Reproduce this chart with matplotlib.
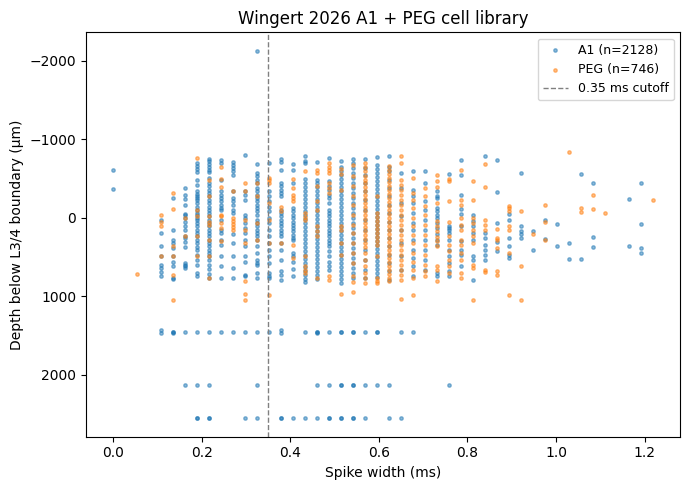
import matplotlib
matplotlib.use("Agg")
import matplotlib.pyplot as plt

# spike width columns (ms) and depths (um)
a1_widths = [0.000, 0.108, 0.135, 0.163, 0.190, 0.217, 0.244, 0.271, 0.298, 0.325,
             0.352, 0.379, 0.406, 0.433, 0.461, 0.488, 0.515, 0.542, 0.569, 0.596,
             0.623, 0.650, 0.677, 0.704, 0.731, 0.759, 0.786, 0.813, 0.840, 0.867,
             0.894, 0.921, 0.948, 0.975, 1.002, 1.029, 1.057, 1.084, 1.165, 1.192]
a1_depths = [
    [-607, -365],
    [25, 195, 361, 493, 599, 641, 696, 739, 1435, 1469],
    [-250, 153, 280, 323, 387, 493, 557, 612, 770, 778, 1450, 1456, 1462],
    [-378, -293, -238, -166, -51, -34, 8, 47, 102, 153, 229, 259, 314, 374, 578, 599, 620, 641, 1456, 2132],
    [-697, -663, -620, -578, -484, -421, -336, -306, -272, -250, -229, -187, -144, -102, -60, -30, 0, 34,
     68, 110, 153, 196, 238, 280, 323, 374, 416, 472, 535, 599, 705, 748, 1456, 2132, 2548, 2556],
    [-752, -718, -684, -642, -612, -578, -506, -442, -400, -357, -314, -272, -229, -187, -144, -102, -60, -17,
     25, 68, 110, 153, 196, 238, 280, 323, 365, 408, 450, 493, 535, 599, 654, 714, 769, 1456, 2132, 2548, 2556],
    [-739, -697, -484, -336, -293, -250, -208, -166, -130, -102, 25, 153, 196, 280, 344, 493, 620, 769, 1456],
    [-710, -676, -633, -591, -548, -336, -250, -208, -166, -102, -60, 200, 323, 493, 642, 769, 1456],
    [-795, -336, -293, -229, -38, 4, 68, 132, 196, 280, 365, 493, 557, 727, 748, 1456, 2552],
    [-2130, -688, -570, -527, -484, -442, -378, -336, -293, -250, -208, -166, -123, -81, -38, 25, 68, 110,
     153, 196, 238, 280, 365, 450, 535, 578, 599, 705, 769, 1456, 2132, 2552],
    [-705, -336, -272, -208, -144, -81, 4, 68, 153, 238, 323, 408, 493, 578, 705, 748, 769, 1456],
    [-748, -710, -608, -442, -400, -357, -314, -272, -102, -60, -17, 25, 68, 110, 153, 196, 238, 323, 408,
     535, 684, 727, 790, 1435, 1469, 2548, 2556],
    [-688, -612, -442, -123, -81, -38, 4, 47, 89, 132, 174, 217, 259, 280, 450, 493, 557, 654, 748, 2552],
    [-790, -718, -697, -497, -442, -391, -340, -289, -238, -187, -136, -85, -34, 17, 68, 119, 170, 221, 272,
     323, 374, 425, 476, 527, 578, 629, 680, 731, 782, 812, 1456, 2552],
    [-710, -484, -442, -391, -340, -289, -238, -187, -136, -85, -34, 17, 68, 119, 170, 221, 272, 323, 374,
     425, 476, 527, 578, 629, 680, 731, 782, 1450, 1456, 1462, 2132, 2552],
    [-761, -463, -408, -349, -293, -250, -187, -102, -60, -17, 25, 68, 110, 153, 196, 238, 280, 323, 365,
     429, 493, 557, 620, 663, 1456, 2132, 2548, 2556],
    [-718, -654, -591, -540, -489, -438, -387, -336, -285, -234, -183, -132, -81, -30, 21, 72, 123, 174, 225,
     276, 327, 378, 429, 480, 531, 582, 633, 684, 735, 786, 833, 1452, 1460, 2128, 2136, 2548, 2556],
    [-748, -697, -633, -570, -506, -442, -378, -314, -250, -187, -123, -60, 4, 68, 132, 196, 259, 323, 387,
     450, 514, 578, 642, 705, 769, 1452, 1460, 2128, 2136, 2548, 2556],
    [-748, -633, -548, -442, -336, -229, -102, 25, 153, 280, 408, 535, 663, 769, 1456, 2132, 2552],
    [-774, -676, -625, -574, -523, -472, -421, -370, -319, -268, -217, -166, -115, -64, -13, 38, 89, 140,
     191, 242, 293, 344, 395, 446, 497, 548, 599, 650, 701, 752, 1452, 1460, 2132],
    [-790, -654, -591, -484, -378, -272, -166, -60, 47, 153, 259, 365, 472, 578, 684, 790, 2132, 2552],
    [-570, -378, -187, -17, 153, 323, 493, 663, 1456, 2548],
    [-591, -357, -272, -187, -60, 68, 153, 280, 408, 514, 620, 748, 1456],
    [-591, -442, -208, -102, 25, 153, 280, 408, 535, 663],
    [-344, -272, -250, -123, -81, -38, 4, 60, 130, 200, 280, 350, 705, 748],
    [-561, 102, 132, 153, 196, 280, 408, 493, 578, 684, 748, 2132],
    [-739, -548, -293, -110, -47, 110, 300, 408, 470, 620],
    [-38, 40, 110, 196, 280, 493, 535, 790],
    [-790, 196, 259, 344, 408, 472, 535],
    [-739, -332, 68, 306, 429],
    [-47, 25, 259, 365, 472, 514],
    [-570, 102, 174, 204, 259],
    [166, 408],
    [34, 268],
    [81, 357],
    [323, 523],
    [-557, 523],
    [-442, 246, 374],
    [-238, 357],
    [-442, 81, 387, 450],
]

peg_widths = [0.054, 0.108, 0.135, 0.163, 0.190, 0.217, 0.244, 0.271, 0.298, 0.325,
              0.352, 0.379, 0.406, 0.433, 0.461, 0.488, 0.515, 0.542, 0.569, 0.596,
              0.623, 0.650, 0.677, 0.704, 0.731, 0.759, 0.786, 0.813, 0.840, 0.867,
              0.894, 0.921, 0.948, 0.975, 1.029, 1.057, 1.084, 1.111, 1.219]
peg_depths = [
    [717],
    [-34, 59, 98, 493],
    [-314, -110, 357, 493, 726, 1045],
    [4, 238],
    [-760, -102, -17, 238, 493],
    [-484, -272, -17, 47, 89, 280, 493, 769],
    [-654, -493, -391, -38, -17, 68, 130, 300],
    [-340, 4, 40, 80, 120, 153],
    [-442, -344, 25, 153, 323, 799, 969, 1045],
    [-450, -272, 68, 280],
    [-506, -476, -442, -187, 25, 323, 990],
    [-144, -81, 323],
    [-493, -378, -293, -250, -208, 344, 514],
    [-591, -60, -8, 25, 493, 620, 663, 705],
    [-612, -570, -400, -208, -102, 110, 174, 238, 769],
    [-697, -654, -612, -570, -442, -378, -314, 748, 790],
    [-620, -560, -357, 110, 150, 323, 480, 969],
    [-676, -527, -400, -272, -166, -38, 89, 196, 323, 450, 578, 748, 812, 940],
    [-697, -654, -591, -527, -484, -442, -391, -340, -289, -238, -187, -136, -85, -34, 17, 68, 119, 170,
     221, 272, 323, 374, 450, 535, 620, 705, 769, 825],
    [-272, -60, -8, 43, 93, 145, 196, 247, 297, 348, 493, 769, 799, 833],
    [-663, -612, -561, -510, -459, -408, -357, -306, -255, -204, -153, -102, -51, 0, 51, 102, 153, 204,
     255, 306, 357, 408, 459, 510, 561, 612, 663, 714, 765, 799],
    [-790, -697, -484, -421, -357, -293, -229, -166, -102, -38, 25, 89, 153, 217, 280, 344, 408, 472, 535,
     599, 663, 727, 790, 1037],
    [-506, -314, -229, -123, 4, 110, 217, 323, 450, 557, 663, 769, 990],
    [-378, -272, -153, -38, 89, 217, 344, 472, 599, 684, 748],
    [-548, -472, -391, -187, 40, 100, 170, 240, 300, 360, 620, 663, 799],
    [-493, -472, -217, 55, 238, 344, 429, 535, 620, 705],
    [-612, -229, -166, 4, 89, 153, 280, 344, 450, 535, 705, 769],
    [-472, -229, 4, 68, 150, 238, 323, 599, 642, 1045],
    [-688, -395, 34, 89, 153, 663, 693],
    [140, 251, 280, 387, 684, 727],
    [-157, -123, -81, 110, 153, 450, 982],
    [-89, 612, 1045],
    [208],
    [-166, 59, 280],
    [-837],
    [-123, -76],
    [-293, -115],
    [-64],
    [-225],
]

a1_x = [w for w, ds in zip(a1_widths, a1_depths) for d in ds]
a1_y = [d for ds in a1_depths for d in ds]
peg_x = [w for w, ds in zip(peg_widths, peg_depths) for d in ds]
peg_y = [d for ds in peg_depths for d in ds]

fig, ax = plt.subplots(figsize=(7, 5), dpi=100)
ax.scatter(a1_x, a1_y, s=6, alpha=0.5, color='tab:blue', label='A1 (n=2128)')
ax.scatter(peg_x, peg_y, s=6, alpha=0.5, color='tab:orange', label='PEG (n=746)')
ax.axvline(0.35, color='gray', linestyle='--', linewidth=1, label='0.35 ms cutoff')
ax.invert_yaxis()
ax.set_title('Wingert 2026 A1 + PEG cell library')
ax.set_xlabel('Spike width (ms)')
ax.set_ylabel('Depth below L3/4 boundary (μm)')
ax.legend(loc='upper right', fontsize=9)
plt.tight_layout()
plt.savefig('out.png', bbox_inches='tight')
